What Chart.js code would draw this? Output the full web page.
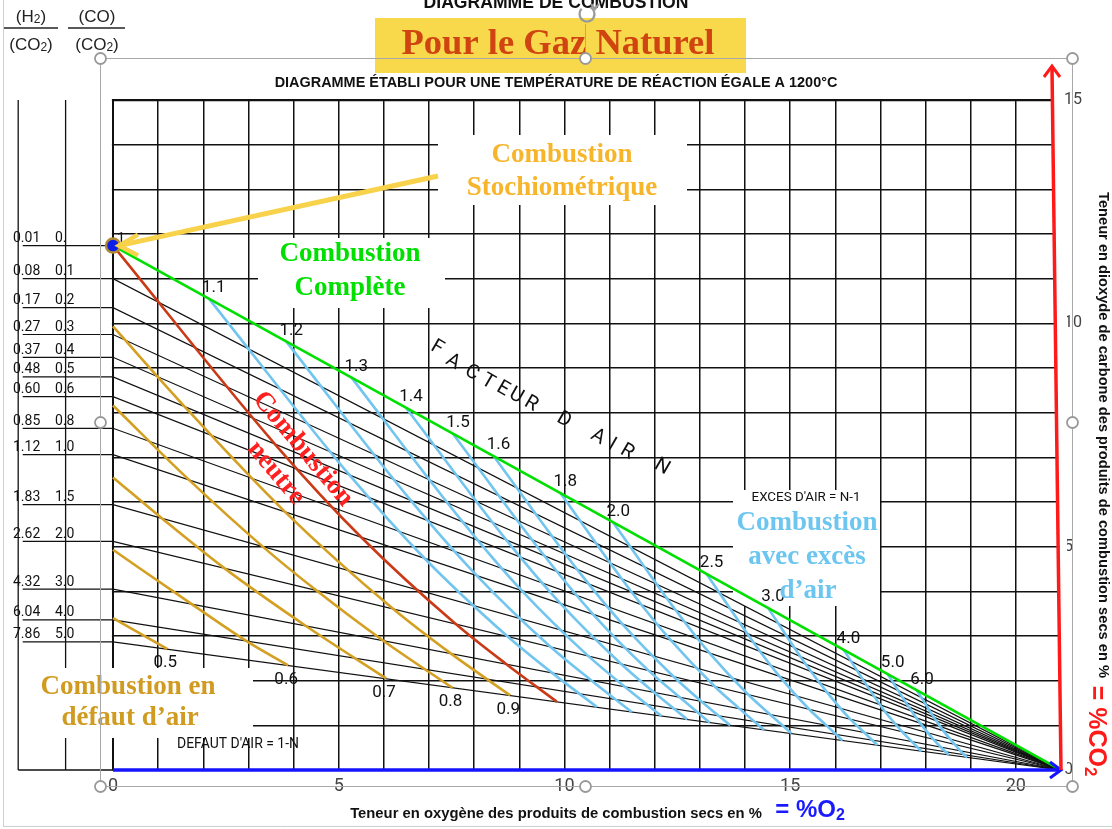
<!DOCTYPE html>
<html><head><meta charset="utf-8">
<script src="https://cdn.jsdelivr.net/npm/chart.js@4.4.1/dist/chart.umd.min.js"></script>
<style>html,body{margin:0;padding:0;background:#fff;overflow:hidden}canvas{display:block}</style>
</head><body>
<canvas id="c" width="1112" height="829"></canvas>
<script>
// ================= DATA =================
// x : O2 % in dry flue gas, y : CO2 % in dry flue gas
const oxygenGrid = [0,1,2,3,4,5,6,7,8,9,10,11,12,13,14,15,16,17,18,19,20];
const oxygenTickLabels = ['0','5','10','15','20'];
const co2Grid = [0,1,2,3,4,5,6,7,8,9,10,11,12,13,14,15];
const co2TickLabels = ['0','5','10','15'];

// left scales (H2/CO2 and CO/CO2) and the CO2 % where each CO line meets O2 = 0
const h2Ratios = ['0.01','0.08','0.17','0.27','0.37','0.48','0.60','0.85','1.12','1.83','2.62','4.32','6.04','7.86'];
const coRatios = ['0.','0.1','0.2','0.3','0.4','0.5','0.6','0.8','1.0','1.5','2.0','3.0','4.0','5.0'];
const coLineCO2 = [11.74,11.0,10.35,9.75,9.24,8.8,8.36,7.65,7.06,5.94,5.12,4.05,3.36,2.87];
const coLineEndO2 = 21;

// complete (CO free) combustion line and stoichiometric point
const completeLineO2 = [0, 21];
const completeLineCO2 = [11.74, 0];
const stoichPoint = {x: 0, y: 11.74};

// air factor N > 1 (excess air) lines : [O2, CO2] points
const excessAirFactors = ['1.1','1.2','1.3','1.4','1.5','1.6','1.8','2.0','2.5','3.0','4.0','5.0','6.0'];
const excessAirLines = [
  [[2.12,10.56],[5.25,6.59],[6.91,4.73],[8.73,3.00],[9.72,2.18],[10.72,1.41]],
  [[3.84,9.59],[6.61,6.02],[8.07,4.34],[9.69,2.76],[10.59,2.01],[11.49,1.30]],
  [[5.28,8.79],[7.75,5.55],[9.06,4.01],[10.52,2.56],[11.33,1.87],[12.15,1.21]],
  [[6.49,8.11],[8.72,5.14],[9.91,3.73],[11.24,2.39],[11.97,1.75],[12.72,1.13]],
  [[7.53,7.53],[9.56,4.79],[10.64,3.48],[11.86,2.23],[12.54,1.64],[13.22,1.06]],
  [[8.43,7.03],[10.29,4.48],[11.29,3.26],[12.41,2.10],[13.03,1.54],[13.67,1.00]],
  [[9.91,6.20],[11.50,3.97],[12.36,2.90],[13.33,1.87],[13.87,1.38],[14.42,0.90]],
  [[11.08,5.54],[12.47,3.57],[13.22,2.61],[14.07,1.69],[14.55,1.25],[15.03,0.82]],
  [[13.15,4.39],[14.20,2.84],[14.77,2.09],[15.42,1.36],[15.79,1.01],[16.16,0.66]],
  [[14.51,3.63],[15.35,2.36],[15.81,1.75],[16.33,1.14],[16.63,0.85],[16.93,0.56]],
  [[16.18,2.70],[16.78,1.77],[17.10,1.31],[17.48,0.86],[17.69,0.64],[17.91,0.42]],
  [[17.16,2.15],[17.63,1.41],[17.88,1.05],[18.17,0.69],[18.34,0.51],[18.51,0.34]],
  [[17.81,1.78],[18.19,1.17],[18.40,0.87],[18.64,0.58],[18.77,0.43],[18.92,0.28]]
];
// N = 1 (neutral combustion)
const neutralLine = [[0,11.74],[3.61,7.27],[5.51,5.20],[7.58,3.28],[8.70,2.38],[9.83,1.53]];
// air factor N < 1 (air defect) lines
const defectAirFactors = ['0.5','0.6','0.7','0.8','0.9'];
const defectAirLines = [
  [[0,3.40],[1.20,2.71]],
  [[0,4.93],[1.72,3.73],[2.95,2.89],[3.88,2.34]],
  [[0,6.55],[1.10,5.62],[2.45,4.53],[4.25,3.24],[6.05,2.05]],
  [[0,8.16],[1.69,6.49],[3.33,4.99],[4.48,4.04],[5.98,2.90],[7.52,1.84]],
  [[0,9.93],[1.60,8.12],[3.81,5.78],[6.19,3.62],[7.48,2.61],[8.80,1.67]]
];

// ================= STYLE / LAYOUT =================
const SANS = 'Roboto, "Liberation Sans", Arial, sans-serif';
const BSANS = '"Liberation Sans", Arial, sans-serif';
const SERIF = '"Liberation Serif", "DejaVu Serif", serif';
const C_BLUE_N = '#72c5ee', C_ORANGE = '#d4a022', C_RED_N = '#c93a16', C_GREEN = '#00e000';
const ZERO_PX = 113, RIGHT_PX = 1061;

const pts = arr => arr.map(p => ({x: p[0], y: p[1]}));
const lineDs = (data, color, width, extra) => Object.assign({
  data, showLine: true, borderColor: color, borderWidth: width,
  pointRadius: 0, pointHoverRadius: 0, fill: false
}, extra || {});

const datasets = [];
datasets.push({data: [stoichPoint], showLine: false, pointRadius: 7, pointBackgroundColor: '#0c1ee8',
  pointBorderColor: '#b08a34', pointBorderWidth: 2.5});
datasets.push(lineDs(completeLineO2.map((x, i) => ({x, y: completeLineCO2[i]})), C_GREEN, 2.6));
datasets.push(lineDs(pts(neutralLine), C_RED_N, 2.6, {cubicInterpolationMode: 'monotone'}));
defectAirLines.forEach(l => datasets.push(lineDs(pts(l), C_ORANGE, 2.6, {cubicInterpolationMode: 'monotone'})));
excessAirLines.forEach(l => datasets.push(lineDs(pts(l), C_BLUE_N, 2.6, {cubicInterpolationMode: 'monotone'})));
coLineCO2.forEach((v, i) => {
  const d = [{x: -2.0, y: v}, {x: 0, y: v}];
  if (i > 0) d.push({x: coLineEndO2, y: 0});
  datasets.push(lineDs(d, '#111', 1.2));
});

function fitFont(ctx, text, weight, family, width) {
  ctx.font = weight + ' 100px ' + family;
  const s = 100 * width / ctx.measureText(text).width;
  ctx.font = weight + ' ' + s.toFixed(2) + 'px ' + family;
}
function txt(ctx, t, x, y, font, color, align, rot) {
  ctx.save();
  ctx.translate(x, y);
  if (rot) ctx.rotate(rot);
  ctx.font = font; ctx.fillStyle = color;
  ctx.textAlign = align || 'center'; ctx.textBaseline = 'middle';
  ctx.fillText(t, 0, 0);
  ctx.restore();
}
function fitTxt(ctx, t, x, y, weight, family, width, color, rot) {
  ctx.save();
  ctx.translate(x, y);
  if (rot) ctx.rotate(rot);
  fitFont(ctx, t, weight, family, width);
  ctx.fillStyle = color; ctx.textAlign = 'center'; ctx.textBaseline = 'middle';
  ctx.fillText(t, 0, 0);
  ctx.restore();
}
function rich(ctx, parts, x, y, rot) {
  ctx.save();
  ctx.translate(x, y);
  if (rot) ctx.rotate(rot);
  let total = 0;
  parts.forEach(p => { ctx.font = p.font; p.w = ctx.measureText(p.t).width; total += p.w; });
  let cx = -total / 2;
  ctx.textAlign = 'left'; ctx.textBaseline = 'middle';
  parts.forEach(p => { ctx.font = p.font; ctx.fillStyle = p.color; ctx.fillText(p.t, cx, p.dy || 0); cx += p.w; });
  ctx.restore();
}
function seg(ctx, x1, y1, x2, y2, color, w) {
  ctx.beginPath(); ctx.moveTo(x1, y1); ctx.lineTo(x2, y2);
  ctx.strokeStyle = color; ctx.lineWidth = w; ctx.stroke();
}

const overlay = {
  id: 'overlay',
  beforeDatasetsDraw(chart) {
    const {ctx, chartArea: a, scales: {x, y}} = chart;
    ctx.save();
    ctx.fillStyle = '#fff';
    const x0 = x.getPixelForValue(0);
    ctx.fillRect(0, a.top - 3, x0 - 1.1, a.bottom - a.top + 6);
    ctx.beginPath();
    ctx.moveTo(x.getPixelForValue(21) + 1.5, a.bottom + 1);
    ctx.lineTo(x.getPixelForValue(20.8) + 1.5, a.top - 3);
    ctx.lineTo(a.right + 6, a.top - 3);
    ctx.lineTo(a.right + 6, a.bottom + 1);
    ctx.closePath(); ctx.fill();
    // left scale frame
    const xa = x.getPixelForValue(-2.1), xb = x.getPixelForValue(-1.05);
    seg(ctx, xa, y.getPixelForValue(15), xa, y.getPixelForValue(0), '#111', 1.3);
    seg(ctx, xb, y.getPixelForValue(15), xb, y.getPixelForValue(0), '#111', 1.3);
    seg(ctx, xa, y.getPixelForValue(0), x0, y.getPixelForValue(0), '#111', 1.5);
    // white label boxes
    ctx.fillStyle = '#fff';
    ctx.fillRect(438, 135, 249, 70);
    ctx.fillRect(258, 238, 187, 70);
    ctx.fillRect(733, 490, 147, 116);
    ctx.fillRect(24, 668, 229, 70);
    txt(ctx, '1', x0 + 8, y.getPixelForValue(11.74) - 6, '15px ' + SANS, '#111');
    ctx.restore();
  },
  afterDraw(chart) {
    const {ctx, chartArea: a, scales: {x, y}} = chart;
    ctx.save();
    const X = v => x.getPixelForValue(v), Y = v => y.getPixelForValue(v);
    // blue O2 axis arrow
    seg(ctx, X(0), Y(0), X(21), Y(0), '#1414ff', 3.5);
    ctx.beginPath(); ctx.moveTo(X(21) - 11, Y(0) - 8); ctx.lineTo(X(21), Y(0)); ctx.lineTo(X(21) - 11, Y(0) + 8);
    ctx.strokeStyle = '#1414ff'; ctx.lineWidth = 3; ctx.stroke();
    // red CO2 axis arrow
    const rtX = X(20.8), rtY = 66;
    seg(ctx, X(21), Y(0), rtX, rtY, '#ff1a1a', 3.5);
    ctx.beginPath(); ctx.moveTo(rtX - 8, rtY + 11); ctx.lineTo(rtX, rtY); ctx.lineTo(rtX + 8, rtY + 11);
    ctx.strokeStyle = '#ff1a1a'; ctx.lineWidth = 3; ctx.stroke();
    // yellow arrow to stoichiometric point
    const tipX = X(0) + 6, tipY = Y(11.74);
    seg(ctx, 438, 176, tipX, tipY, '#f8d24a', 5);
    ctx.beginPath(); ctx.moveTo(tipX + 19, tipY - 11); ctx.lineTo(tipX, tipY); ctx.lineTo(tipX + 19, tipY + 10);
    ctx.strokeStyle = '#f8d24a'; ctx.lineWidth = 4.5; ctx.stroke();

    // air factor labels
    excessAirLines.forEach((l, i) => txt(ctx, excessAirFactors[i], X(l[0][0]) + 5, Y(l[0][1]) - 11, '17px ' + SANS, '#111'));
    defectAirLines.forEach((l, i) => {
      const e = l[l.length - 1];
      txt(ctx, defectAirFactors[i], X(e[0]) - 2, Y(e[1]) + 14, '17px ' + SANS, '#111');
    });
    // left scales labels
    coLineCO2.forEach((v, i) => {
      txt(ctx, h2Ratios[i], 13, Y(v) - 7, '14px ' + SANS, '#111', 'left');
      txt(ctx, coRatios[i], 55, Y(v) - 7, '14px ' + SANS, '#111', 'left');
    });
    // header fractions
    const F17 = '17px ' + BSANS, F12 = '12px ' + BSANS;
    rich(ctx, [{t: '(H', font: F17, color: '#222'}, {t: '2', font: F12, color: '#222', dy: 3}, {t: ')', font: F17, color: '#222'}], 31, 17);
    rich(ctx, [{t: '(CO', font: F17, color: '#222'}, {t: '2', font: F12, color: '#222', dy: 3}, {t: ')', font: F17, color: '#222'}], 31, 45);
    rich(ctx, [{t: '(CO)', font: F17, color: '#222'}], 97, 17);
    rich(ctx, [{t: '(CO', font: F17, color: '#222'}, {t: '2', font: F12, color: '#222', dy: 3}, {t: ')', font: F17, color: '#222'}], 97, 45);
    seg(ctx, 3, 28, 58, 28, '#222', 1.4);
    seg(ctx, 68, 28, 125, 28, '#222', 1.4);

    // titles
    fitTxt(ctx, 'DIAGRAMME DE COMBUSTION', 556, 3, 'bold', BSANS, 265, '#111');
    ctx.fillStyle = '#f8d94b'; ctx.fillRect(375, 18, 371, 55);
    fitTxt(ctx, 'Pour le Gaz Naturel', 558, 45, 'bold', SERIF, 313, '#cf4410');
    fitTxt(ctx, 'DIAGRAMME ÉTABLI POUR UNE TEMPÉRATURE DE RÉACTION ÉGALE A 1200°C', 556, 83, 'bold', BSANS, 563, '#111');

    // annotations
    txt(ctx, 'Combustion', 562, 155, 'bold 27px ' + SERIF, '#f7b52b');
    txt(ctx, 'Stochiométrique', 562, 188, 'bold 27px ' + SERIF, '#f7b52b');
    txt(ctx, 'Combustion', 350, 254, 'bold 27px ' + SERIF, '#00e000');
    txt(ctx, 'Complète', 350, 288, 'bold 27px ' + SERIF, '#00e000');
    const rot = 50 * Math.PI / 180;
    txt(ctx, 'Combustion', 303, 449, 'bold 27px ' + SERIF, '#ff2020', 'center', rot);
    txt(ctx, 'neutre', 276, 473, 'bold 27px ' + SERIF, '#ff2020', 'center', rot);
    txt(ctx, 'Combustion', 807, 523, 'bold 27px ' + SERIF, '#6cc6f0');
    txt(ctx, 'avec excès', 807, 557, 'bold 27px ' + SERIF, '#6cc6f0');
    txt(ctx, 'd’air', 808, 591, 'bold 27px ' + SERIF, '#6cc6f0');
    txt(ctx, 'Combustion en', 128, 687, 'bold 27px ' + SERIF, '#d09b20');
    txt(ctx, 'défaut d’air', 130, 718, 'bold 27px ' + SERIF, '#d09b20');
    fitTxt(ctx, 'EXCES D\'AIR = N-1', 806, 498, 'normal', SANS, 109, '#111');
    fitTxt(ctx, 'DEFAUT D\'AIR = 1-N', 238, 745, 'normal', SANS, 122, '#111');
    const letters = [['F',437,348],['A',453,362],['C',472,373],['T',488,382],['E',503,389],['U',516,396],['R',531,404],
                     ['D',564,420],['A',598,437],['I',612,445],['R',627,452],['N',662,467]];
    letters.forEach(l => txt(ctx, l[0], l[1], l[2], '20px ' + SANS, '#111', 'center', 30 * Math.PI / 180));

    // axis titles
    fitTxt(ctx, 'Teneur en oxygène des produits de combustion secs en %', 556, 814, 'bold', BSANS, 412, '#111');
    rich(ctx, [{t: '= %O', font: 'bold 24px ' + BSANS, color: '#1a1aff'}, {t: '2', font: 'bold 16px ' + BSANS, color: '#1a1aff', dy: 6}], 810, 810);
    fitTxt(ctx, 'Teneur en dioxyde de carbone des produits de combustion secs en %', 1103, 435, 'bold', BSANS, 486, '#111', Math.PI / 2);
    rich(ctx, [{t: '= %CO', font: 'bold 25px ' + BSANS, color: '#ff1a1a'}, {t: '2', font: 'bold 17px ' + BSANS, color: '#ff1a1a', dy: 6}], 1096, 731, Math.PI / 2);

    // selection frame (screenshot artefact)
    ctx.strokeStyle = '#a8a8a8'; ctx.lineWidth = 1;
    ctx.strokeRect(100.5, 58.5, 972, 728);
    seg(ctx, 585.5, 24, 585.5, 53, '#a8a8a8', 1);
    [[100,58],[585,58],[1072,58],[100,422],[1072,422],[100,786],[585,786],[1072,786]].forEach(p => {
      ctx.beginPath(); ctx.arc(p[0] + 0.5, p[1] + 0.5, 5.5, 0, Math.PI * 2);
      ctx.fillStyle = '#fff'; ctx.fill(); ctx.strokeStyle = '#999'; ctx.lineWidth = 1.8; ctx.stroke();
    });
    ctx.beginPath(); ctx.arc(587, 14, 7.5, -0.35 * Math.PI, 1.25 * Math.PI);
    ctx.strokeStyle = '#999'; ctx.lineWidth = 2.2; ctx.stroke();
    ctx.beginPath(); ctx.moveTo(591, 4); ctx.lineTo(595, 9); ctx.lineTo(599, 4); ctx.stroke();
    seg(ctx, 3.5, 0, 3.5, 826, '#d0d0d0', 1);
    seg(ctx, 3, 826.5, 1112, 826.5, '#d0d0d0', 1);
    ctx.restore();
  }
};

const chart = new Chart(document.getElementById('c'), {
  type: 'scatter',
  data: {datasets},
  options: {
    responsive: false, animation: false, devicePixelRatio: 1, events: [],
    layout: {padding: {left: 2, top: 100, right: 0, bottom: 0}},
    plugins: {legend: {display: false}, tooltip: {enabled: false}},
    scales: {
      x: {
        type: 'linear', min: -2.5, max: 21,
        afterBuildTicks: s => { s.ticks = oxygenGrid.map(v => ({value: v})); },
        afterFit: s => { s.height = 59; s.paddingLeft = 0; s.paddingRight = 0; },
        border: {display: false},
        grid: {color: '#111', lineWidth: c => (c.tick && c.tick.value === 0) ? 2 : 1.5, drawTicks: false},
        ticks: {autoSkip: false, maxRotation: 0, padding: 6, color: '#444', font: {family: SANS, size: 18},
          callback: v => oxygenTickLabels.includes(String(v)) ? String(v) : ''}
      },
      y: {
        type: 'linear', position: 'right', min: 0, max: 15,
        afterBuildTicks: s => { s.ticks = co2Grid.map(v => ({value: v})); },
        afterFit: s => { s.width = 51; s.paddingTop = 0; s.paddingBottom = 0; },
        border: {display: false},
        grid: {color: '#111', lineWidth: c => (c.tick && c.tick.value === 15) ? 2.2 : 1.5, drawTicks: false},
        ticks: {autoSkip: false, padding: 3, color: '#444', font: {family: SANS, size: 16},
          callback: v => co2TickLabels.includes(String(v)) ? String(v) : ''}
      }
    }
  },
  plugins: [overlay]
});
// place O2 = 0 at the same pixel column as in the original diagram
{
  const a = chart.chartArea;
  const k = (a.right - ZERO_PX) / 21;
  chart.options.scales.x.min = -(ZERO_PX - a.left) / k;
  chart.update();
}
</script>
</body></html>
